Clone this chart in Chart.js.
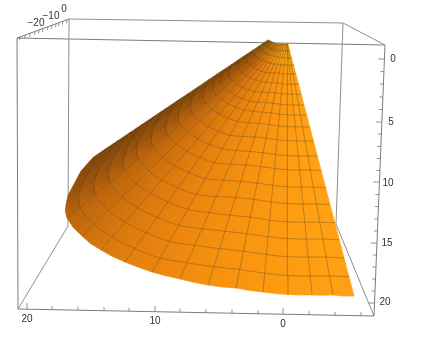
<!DOCTYPE html>
<html><head><meta charset="utf-8">
<style>html,body{margin:0;padding:0;background:#fff}canvas{display:block}</style>
<script src="https://cdn.jsdelivr.net/npm/chart.js@4/dist/chart.umd.min.js"></script>
</head><body><canvas id="c" width="429" height="341"></canvas>
<script>
// Surface mesh vertices: one list per radial line, outer arc first.
const meshX = [
[354,349,344,339.3,334.9,330,325.6,321.1,317.4,313.5,309.8,306.7,304,301.2,298.6,295.9,293.5,291.7,289.8,288],
[333,329.5,326.1,322.9,319.8,316.5,313.4,310.3,307.8,305.1,302.5,300.4,298.6,296.6,294.8,293,291.3,290,288.8,287.5],
[312,310.1,308.2,306.4,304.8,302.9,301.3,299.6,298.2,296.7,295.3,294.1,293.1,292,291,290,289.1,288.4,287.7,287],
[288,287.9,287.8,287.8,287.7,287.6,287.6,287.5,287.4,287.4,287.3,287.3,287.2,287.2,287.2,287.1,287.1,287.1,287,287],
[263,264.7,266.5,268.1,269.7,271.3,272.9,274.5,275.7,277.1,278.4,279.5,280.4,281.4,282.3,283.2,284.1,284.7,285.4,286],
[236,239.7,243.4,246.9,250.2,253.8,257.1,260.4,263.1,266.1,268.8,271.1,273.1,275.2,277.2,279.1,280.9,282.3,283.6,285],
[208,213.8,219.5,224.9,230,235.6,240.7,245.8,250.1,254.7,258.9,262.5,265.5,268.8,271.8,274.9,277.6,279.7,281.9,284],
[180,187.1,194.7,202,209,216.2,223.3,230.4,236.3,242.5,248.5,253.4,257.6,261.9,266.2,270.3,274.2,277.3,280,283],
[152,160.1,169.6,178.7,187.8,196.2,205.3,214.4,222.2,230,237.8,244.3,249.5,254.7,260.6,265.8,270.9,274.9,278.1,282],
[125,134.7,146.1,157,167.9,178,189,199.9,209.2,218.6,228,235.8,242,248.2,255.3,261.5,267.7,272.4,276.3,281],
[101,112.1,125.2,137.7,150.2,161.9,174.4,186.9,197.7,208.4,219.1,228.1,235.3,242.4,250.5,257.6,264.8,270.2,274.6,280],
[82,94.2,108.5,122.3,136,148.8,162.6,176.3,188.1,199.9,211.7,221.5,229.4,237.2,246.1,253.9,261.8,267.7,272.6,278.5],
[67,80,95.4,110.1,124.8,138.4,153.1,167.8,180.4,193,205.6,216.1,224.5,232.9,242.4,250.8,259.2,265.5,270.7,277],
[66,78.9,94.1,108.6,123.2,136.7,151.3,165.8,178.3,190.8,203.3,213.7,222,230.3,239.7,248,256.3,262.6,267.8,274],
[73,86.2,100.6,114.4,128.2,141,154.8,168.6,180.4,192.2,204,213.9,221.8,229.6,238.5,246.4,254.3,260.2,265.1,271],
[93,105.7,118.4,130.5,142.6,153.8,165.9,178,188.4,198.8,209.2,217.8,224.8,231.7,239.5,246.4,253.3,258.5,262.8,268]
];
const meshY = [
[296,276.8,258,239.8,222.9,204.5,187.6,170.5,156.4,141.3,127.2,115.3,105.2,94.4,84.3,74.2,65.2,58.1,51,44],
[295,275.9,257.1,239,222.2,203.9,187.1,170,155.9,140.9,126.8,115,105,94.2,84.2,74.1,65.1,58,51,44],
[295,275.9,257.1,239,222.2,203.9,187.1,170,155.9,140.9,126.8,115,105,94.2,84.2,74.1,65.1,58,51,44],
[294.5,275.5,256.7,238.6,221.9,203.6,186.8,169.8,155.7,140.7,126.7,114.9,104.9,94.1,84.1,74.1,65,58,51,44],
[292,273.2,254.6,236.7,220.1,202,185.4,168.5,154.6,139.7,125.8,114.2,104.3,93.6,83.7,73.8,64.8,57.9,50.9,44],
[288,269.5,251.2,233.6,217.2,199.4,183.1,166.5,152.8,138.2,124.5,113,103.3,92.8,83,73.3,64.5,57.7,50.8,44],
[285,266.7,248.6,231.3,215.1,197.5,181.4,165,151.5,137,123.5,112.2,102.6,92.2,82.6,72.9,64.2,57.5,50.7,44],
[279,262.8,245.4,228.7,212.7,196.5,180.3,164.1,150.5,136.4,122.7,111.4,102,92.2,82.3,72.9,64,56.9,50.8,44],
[272,257.9,241.2,225.3,209.3,194.5,178.5,162.6,148.9,135.2,121.5,110.1,101,91.9,81.6,72.5,63.4,56.5,50.8,44],
[262,248.5,232.6,217.3,202,187.9,172.6,157.4,144.3,131.2,118.1,107.2,98.5,89.8,80,71.3,62.5,56,50.5,44],
[250,237.2,222.2,207.8,193.4,180,165.5,151.1,138.8,126.4,114,103.7,95.5,87.3,78,69.8,61.5,55.3,50.2,44],
[236,224.1,210.1,196.6,183.2,170.7,157.3,143.8,132.3,120.8,109.3,99.7,92,84.3,75.7,68,60.3,54.6,49.8,44],
[218,207.2,194.5,182.3,170.2,158.8,146.7,134.5,124,113.6,103.2,94.5,87.5,80.5,72.7,65.8,58.8,53.6,49.2,44],
[205,195,183.1,171.8,160.5,149.9,138.6,127.2,117.5,107.8,98.1,90,83.5,77,69.7,63.3,56.8,51.9,47.9,43],
[186,177,166.5,156.4,146.3,136.9,126.8,116.6,108,99.3,90.6,83.4,77.6,71.8,65.3,59.6,53.8,49.5,45.8,41.5],
[157.5,148.8,140.3,132.2,124.1,116.6,108.4,100.3,93.4,86.4,79.4,73.6,69,64.4,59.1,54.5,49.9,46.4,43.5,40]
];
// Extra points on the rim between neighbouring radial lines, so the outer edge reads as a curve
const rimMidX = [343.5,322.5,300,275.5,249.5,222,194,166,138.5,112.5,90.5,73.5,65.3,68,81];
const rimMidY = [296,295.2,295,293.6,290.4,287,282.3,275.8,267.3,256.5,243.5,227.8,211,195.5,171];
// Box edges as [x1,y1,x2,y2]
const boxBack = [[69,19,343,23],[343,23,385,45],[69,19,68,226],[343,23,336,224],[68,226,18,309],[336,224,374,316]];
const boxFront = [[17,38,385,45],[17,38,18,309],[18,309,374,316],[385,45,374,316],[17,38,69,19]];
// Axis ticks
const xTickPos = [27,52,78,104,129,155,180,206,232,258,283,309,335,361];
const xTickMajor = [27,155,283];
const xTickLabels = [["20",27,319],["10",155,321],["0",283,324]];
const zTickY = [59,71.6,84,97,109.5,122,134,146.5,158.5,170.5,182,194.5,206.5,219,231,243,255,267,279,291,303];
const zTickMajor = [59,122,182,243,303];
const zTickLabels = [["0",393,59],["5",391,122],["10",388,183],["15",387,243],["20",385,302]];
const yTickPos = [20,25,30,35,39,43,48,52,56,59,63,67];
const yTickLabels = [["\u221220",36,23],["\u221210",51,16],["0",64,9]];
// Shade along each radial line
const lineRGB = [[255,161,20],[255,160,19],[255,158,18],[253,155,17],[251,152,16],[249,148,15],[246,144,15],[241,139,14],[235,133,14],[227,127,13],[217,120,13],[204,111,13],[186,100,12],[165,88,11],[145,78,10],[122,68,10]];
const topGoldRows = 16;

const canvas = document.getElementById('c');
const g2d = canvas.getContext('2d');
const rgb = (c, r) => `rgb(${c[0]},${Math.min(255, c[1] + (r >= topGoldRows ? 10 : 0))},${c[2]})`;

const datasets = [];
const line = (pts, color, width, order, tension = 0) => datasets.push({data: pts, showLine: true, fill: false, borderColor: color, borderWidth: width, pointRadius: 0, tension, order});
// surface patches
for (let c = 0; c < meshX.length - 1; c++) {
  for (let r = 0; r < meshX[c].length - 1; r++) {
    const pts = [{x: meshX[c][r], y: meshY[c][r]}];
    if (r === 0) pts.push({x: rimMidX[c], y: rimMidY[c]});
    pts.push({x: meshX[c + 1][r], y: meshY[c + 1][r]},
             {x: meshX[c + 1][r + 1], y: meshY[c + 1][r + 1]},
             {x: meshX[c][r + 1], y: meshY[c][r + 1]},
             {x: meshX[c][r], y: meshY[c][r]});
    const grad = g2d.createLinearGradient(
      (meshX[c][r] + meshX[c][r + 1]) / 2, (meshY[c][r] + meshY[c][r + 1]) / 2,
      (meshX[c + 1][r] + meshX[c + 1][r + 1]) / 2, (meshY[c + 1][r] + meshY[c + 1][r + 1]) / 2);
    grad.addColorStop(0, rgb(lineRGB[c], r));
    grad.addColorStop(1, rgb(lineRGB[c + 1], r));
    datasets.push({data: pts, showLine: true, fill: 'shape', backgroundColor: grad, borderColor: grad, borderWidth: 0.7, pointRadius: 0, tension: 0, order: 50});
  }
}
// mesh lines
const meshColor = 'rgba(95,62,18,0.55)';
for (let c = 1; c <= 12; c++) {
  line(meshX[c].map((x, r) => ({x, y: meshY[c][r]})), meshColor, 0.7, 40);
}
for (let r = 1; r < meshX[0].length; r++) {
  line(meshX.map((xs, c) => ({x: xs[r], y: meshY[c][r]})), meshColor, 0.7, 40, 0.35);
}
// box
boxBack.forEach(e => line([{x: e[0], y: e[1]}, {x: e[2], y: e[3]}], '#8f8f8f', 1, 90));
boxFront.forEach(e => line([{x: e[0], y: e[1]}, {x: e[2], y: e[3]}], '#7c7c7c', 1, 90));
// ticks
xTickPos.forEach(x => {
  const y0 = 309 + (x - 18) * 7 / 356, len = xTickMajor.includes(x) ? 6 : 3.5;
  line([{x, y: y0}, {x, y: y0 - len}], '#777', 0.8, 30);
});
zTickY.forEach(y => {
  const x0 = 385 - (y - 45) * 11 / 271, len = zTickMajor.includes(y) ? 6 : 3.5;
  line([{x: x0, y}, {x: x0 - len, y}], '#777', 0.8, 30);
});
yTickPos.forEach(x => {
  const y0 = 38 - (x - 17) * 19 / 52;
  line([{x, y: y0}, {x: x - 0.5, y: y0 + 3.5}], '#777', 0.8, 30);
});

const labelPlugin = {
  id: 'tickText',
  afterDatasetsDraw(chart) {
    const {ctx, scales: {x, y}} = chart;
    ctx.save();
    ctx.font = '10px "Liberation Sans", Arial, sans-serif';
    ctx.fillStyle = '#333';
    ctx.textAlign = 'center';
    ctx.textBaseline = 'middle';
    [...xTickLabels, ...zTickLabels, ...yTickLabels].forEach(([t, a, b]) => ctx.fillText(t, x.getPixelForValue(a), y.getPixelForValue(b)));
    ctx.restore();
  }
};

new Chart(canvas, {
  type: 'scatter',
  data: {datasets},
  options: {
    responsive: false, animation: false,
    layout: {padding: 0},
    plugins: {legend: {display: false}, tooltip: {enabled: false}},
    scales: {
      x: {type: 'linear', min: 0, max: 429, display: false},
      y: {type: 'linear', min: 0, max: 341, reverse: true, display: false}
    }
  },
  plugins: [labelPlugin]
});
</script></body></html>
